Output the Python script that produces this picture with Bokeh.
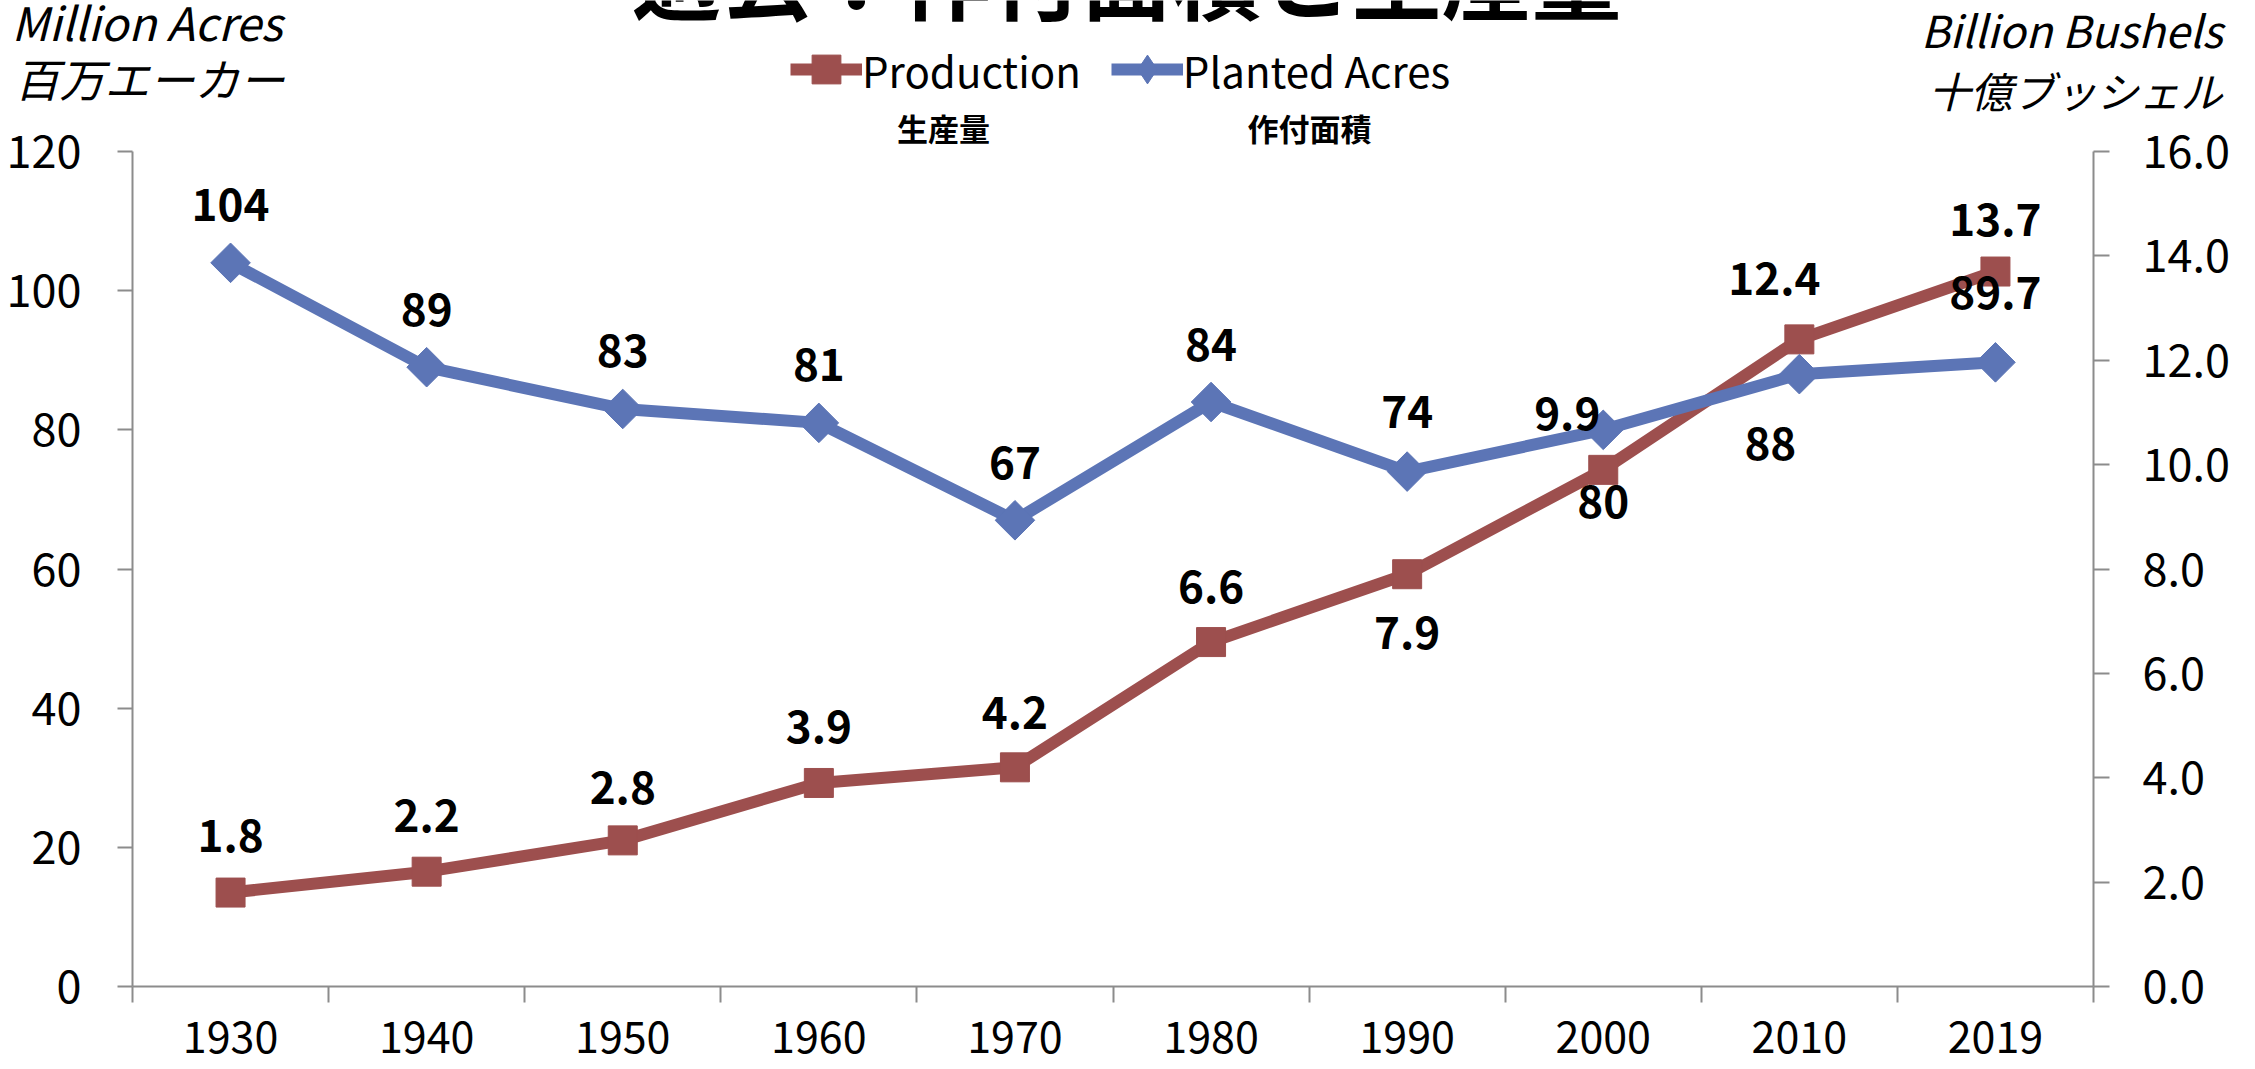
import numpy as np
from bokeh.plotting import figure
from bokeh.models import (Range1d, LinearAxis, FixedTicker, NumeralTickFormatter, Label,
                          LabelSet, ColumnDataSource, Legend, LegendItem)
from bokeh.core.properties import value
from bokeh.embed import file_html
from bokeh.resources import INLINE

# ---------------- data ----------------
years = ["1930", "1940", "1950", "1960", "1970", "1980", "1990", "2000", "2010", "2019"]
planted_acres = [104, 89, 83, 81, 67, 84, 74, 80, 88, 89.7]        # million acres (left axis)
production = [1.8, 2.2, 2.8, 3.9, 4.2, 6.6, 7.9, 9.9, 12.4, 13.7]  # billion bushels (right axis)
acres_ticks = [0, 20, 40, 60, 80, 100, 120]
prod_ticks = [0, 2, 4, 6, 8, 10, 12, 14, 16]

title_text = "過去：作付面積と生産量"
left_unit = ["Million Acres", "百万エーカー"]
right_unit = ["Billion Bushels", "十億ブッシェル"]
legend_names = ["Production", "Planted Acres"]
legend_sub = ["生産量", "作付面積"]

# ---------------- layout / style ----------------
W, H = 2255, 1069
PL, PR, PT, PB = 132, 2093, 151, 986      # plot area in canvas pixels
FONT = "Noto Sans CJK JP"
RED = "#9D4F4E"
BLUE = "#5C75B6"
AXC = "#8C8C8C"

n = len(years)
ACRES_MAX, PROD_MAX = acres_ticks[-1], prod_ticks[-1]
kx = (PR - PL) / n
ky = (PB - PT) / ACRES_MAX
kp = (PB - PT) / PROD_MAX

# the frame covers the whole canvas; the axes are pinned at fixed locations
p = figure(width=W, height=H,
           x_range=Range1d(-PL / kx, n + (W - PR) / kx),
           y_range=Range1d(-(H - PB) / ky, ACRES_MAX + PT / ky),
           output_backend="svg", toolbar_location=None, min_border=0,
           min_border_left=0, min_border_right=0, min_border_top=0, min_border_bottom=0)
p.extra_y_ranges = {"prod": Range1d(-(H - PB) / kp, PROD_MAX + PT / kp)}
p.xgrid.visible = False
p.ygrid.visible = False
p.outline_line_color = None
p.background_fill_color = "white"
p.border_fill_color = "white"

x = np.arange(n) + 0.5

# bottom axis: labels at category centres, tick marks between categories
xa = p.xaxis[0]
xa.fixed_location = 0
xa.bounds = (0, n)
xa.ticker = FixedTicker(ticks=list(x), minor_ticks=list(range(n + 1)))
xa.major_label_overrides = {float(v): yr for v, yr in zip(x, years)}
xa.major_tick_line_color = None
xa.major_tick_out = 0
xa.major_tick_in = 0
xa.minor_tick_line_color = AXC
xa.minor_tick_line_width = 2
xa.minor_tick_out = 16
xa.minor_tick_in = 0
xa.axis_line_color = AXC
xa.axis_line_width = 2
xa.major_label_text_font = FONT
xa.major_label_text_font_size = "43px"
xa.major_label_text_color = "black"
xa.major_label_standoff = 18

ya = p.yaxis[0]
ya.fixed_location = 0
ya.bounds = (0, ACRES_MAX)
ya.ticker = FixedTicker(ticks=acres_ticks)
ya.major_tick_out = 15
ya.major_tick_in = 0
ya.major_tick_line_color = AXC
ya.major_tick_line_width = 2
ya.minor_tick_line_color = None
ya.axis_line_color = AXC
ya.axis_line_width = 2
ya.major_label_text_font = FONT
ya.major_label_text_font_size = "45px"
ya.major_label_text_color = "black"
ya.major_label_standoff = 36

yr = LinearAxis(y_range_name="prod", ticker=FixedTicker(ticks=prod_ticks),
                formatter=NumeralTickFormatter(format="0.0"))
yr.fixed_location = n
yr.bounds = (0, PROD_MAX)
yr.major_tick_out = 16
yr.major_tick_in = 0
yr.major_tick_line_color = AXC
yr.major_tick_line_width = 2
yr.minor_tick_line_color = None
yr.axis_line_color = AXC
yr.axis_line_width = 2
yr.major_label_text_font = FONT
yr.major_label_text_font_size = "45px"
yr.major_label_text_color = "black"
yr.major_label_standoff = 33
p.add_layout(yr, "right")

# ---------------- series ----------------
src = ColumnDataSource(dict(x=x, acres=planted_acres, prod=production))
l_prod = p.line("x", "prod", source=src, y_range_name="prod", line_color=RED, line_width=12,
                line_join="round")
s_prod = p.scatter("x", "prod", source=src, y_range_name="prod", marker="square", size=29,
                   fill_color=RED, line_color=RED)
l_ac = p.line("x", "acres", source=src, line_color=BLUE, line_width=12, line_join="round")
s_ac = p.scatter("x", "acres", source=src, marker="square", angle=np.pi / 4, size=28,
                 fill_color=BLUE, line_color=BLUE)
# legend-only symbol for the diamond series (the legend does not rotate markers);
# it has a single undefined point, so nothing is drawn in the plot itself
s_ac_key = p.scatter(x=[np.nan], y=[np.nan], marker="diamond", size=28,
                     fill_color=BLUE, line_color=BLUE)

# ---------------- data labels ----------------
acres_text = [f"{v:g}" for v in planted_acres]
prod_text = [f"{v:.1f}" for v in production]
# in the reference the two labels of 2000 are exchanged
acres_text[7], prod_text[7] = prod_text[7], acres_text[7]

acres_dx = [0, 0, 0, 0, 0, 0, 0, -36, -29, 0]
acres_dy = [58, 58, 58, 58, 58, 58, 60, 16, -69, 70]
prod_dx = [0, 0, 0, 0, 0, 0, 0, 0, -25, 0]
prod_dy = [57, 56, 53, 56, 55, 56, -58, -32, 61, 52]

lab_ac = ColumnDataSource(dict(x=x, y=planted_acres, t=acres_text, dx=acres_dx, dy=acres_dy))
lab_pr = ColumnDataSource(dict(x=x, y=production, t=prod_text, dx=prod_dx, dy=prod_dy))
for s, rn in ((lab_ac, "default"), (lab_pr, "prod")):
    ls = LabelSet(x="x", y="y", text="t", source=s, x_offset="dx", y_offset="dy",
                  y_range_name=rn, text_align="center", text_baseline="middle",
                  text_font=value(FONT), text_font_style="bold", text_font_size="44px",
                  text_color="black")
    p.add_layout(ls)

# ---------------- legend ----------------
legend = Legend(items=[LegendItem(label=legend_names[0], renderers=[l_prod, s_prod]),
                       LegendItem(label=legend_names[1], renderers=[l_ac, s_ac_key])],
                orientation="horizontal", location=(790, H - 105),
                glyph_width=72, glyph_height=72, label_height=72, label_standoff=0,
                spacing=30, padding=0, margin=0, border_line_color=None,
                background_fill_alpha=0, label_text_font=FONT, label_text_font_size="42px",
                label_text_color="black")
p.add_layout(legend)

# ---------------- texts (canvas pixel positions, y from top) ----------------
def lab(text, xs, ys, size, align="left", baseline="alphabetic", style="normal"):
    p.add_layout(Label(x=xs, y=H - ys, x_units="screen", y_units="screen", text=text,
                       text_font=FONT, text_font_size=size, text_font_style=style,
                       text_align=align, text_baseline=baseline, text_color="black"))

lab(title_text, 1126, -27, "90px", align="center", style="bold")
lab(legend_sub[0], 943, 127, "31px", align="center", baseline="middle", style="bold")
lab(legend_sub[1], 1309, 127, "31px", align="center", baseline="middle", style="bold")
lab(left_unit[0], 11, 20, "46px", style="italic")
lab(left_unit[1], 14, 77, "45px", style="italic")
lab(right_unit[0], 2222, 28, "44px", align="right", style="italic")
lab(right_unit[1], 2222, 89, "42px", align="right", style="italic")

open("out.html", "w").write(file_html(p, INLINE))
